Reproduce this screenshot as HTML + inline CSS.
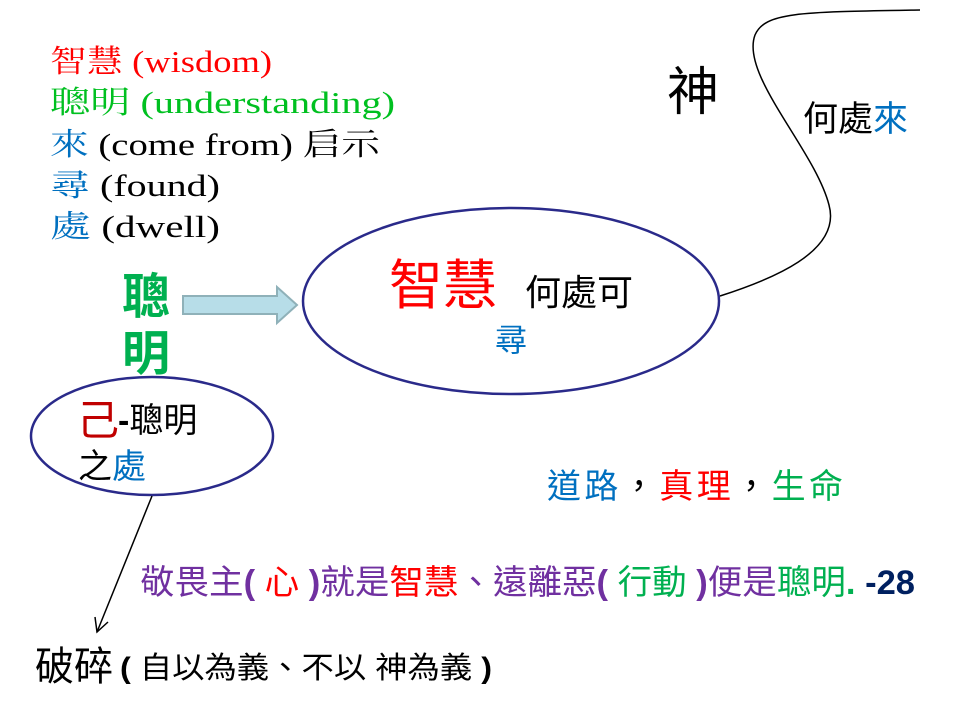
<!DOCTYPE html>
<html><head><meta charset="utf-8"><style>
html,body{margin:0;padding:0;background:#fff;width:960px;height:720px;overflow:hidden}
text{font-family:"Liberation Sans","Noto Sans CJK TC",sans-serif}
text.m{font-family:"Liberation Serif","Noto Serif CJK TC",serif}
</style></head><body>
<svg width="960" height="720" viewBox="0 0 960 720" xmlns="http://www.w3.org/2000/svg">
<g font-size="31">
<text x="50" y="72" class="m" fill="#ff0000" textLength="222" lengthAdjust="spacingAndGlyphs">智慧 (wisdom)</text>
<text x="50" y="113" class="m" fill="#00c020" textLength="345" lengthAdjust="spacingAndGlyphs">聰明 (understanding)</text>
<text x="50" y="155" class="m" fill="#000" textLength="330" lengthAdjust="spacingAndGlyphs"><tspan fill="#0070c0">來</tspan> (come from) 启示</text>
<text x="50" y="196" class="m" fill="#000" textLength="170" lengthAdjust="spacingAndGlyphs"><tspan fill="#0070c0">尋</tspan> (found)</text>
<text x="50" y="237" class="m" fill="#000" textLength="170" lengthAdjust="spacingAndGlyphs"><tspan fill="#0070c0">處</tspan> (dwell)</text>
</g>
<text x="667" y="110" font-size="52" fill="#000">神</text>
<text x="803" y="131" font-size="35" fill="#000">何處<tspan fill="#0070c0">來</tspan></text>
<path d="M720,296 C770,280 842,252 829,205 C815,150 740,75 755,35 C765,12 800,12 920,10" fill="none" stroke="#000" stroke-width="1.5"/>
<ellipse cx="511" cy="301" rx="208" ry="93" fill="none" stroke="#2a2a8a" stroke-width="2.5"/>
<ellipse cx="152" cy="436" rx="121" ry="59" fill="none" stroke="#2a2a8a" stroke-width="2.5"/>
<text x="122" y="313" font-size="48" fill="#00b050" font-weight="bold">聰</text>
<text x="122" y="370" font-size="48" fill="#00b050" font-weight="bold">明</text>
<path d="M183,296 H277 V287 L297,305 L277,323 V314 H183 Z" fill="#b7dde8" stroke="#8fb1b9" stroke-width="2"/>
<text x="389" y="304" font-size="54" fill="#ff0000">智慧</text>
<text x="525" y="305" font-size="36" fill="#000">何處可</text>
<text x="495" y="351" font-size="32" fill="#0070c0">尋</text>
<text x="77" y="435" font-size="42" fill="#c00000">己</text>
<text x="118" y="432" font-size="34" fill="#000"><tspan font-weight="bold">-</tspan>聰明</text>
<text x="78" y="478" font-size="34" fill="#000">之<tspan fill="#0070c0">處</tspan></text>
<text x="547" y="498" font-size="34" textLength="296"><tspan fill="#0070c0">道路</tspan>，<tspan fill="#ff0000">真理</tspan>，<tspan fill="#00b050">生命</tspan></text>
<line x1="152" y1="496" x2="97" y2="632" stroke="#000" stroke-width="1.5"/>
<path d="M95,617 L97,632 L108,622" fill="none" stroke="#000" stroke-width="1.5"/>
<text x="140" y="594" font-size="34" fill="#7030a0" textLength="775" lengthAdjust="spacingAndGlyphs">敬畏主<tspan font-weight="bold">(</tspan> <tspan fill="#ff0000">心</tspan> <tspan font-weight="bold">)</tspan>就是<tspan fill="#ff0000">智慧</tspan>、遠離惡<tspan font-weight="bold">(</tspan> <tspan fill="#00b050">行動</tspan> <tspan font-weight="bold">)</tspan>便是<tspan fill="#00b050">聰明<tspan font-weight="bold">.</tspan></tspan> <tspan fill="#002060" font-weight="bold">-28</tspan></text>
<text x="35" y="680" font-size="40" fill="#000" textLength="78" lengthAdjust="spacingAndGlyphs">破碎</text>
<text x="120" y="678" font-size="30" fill="#000" textLength="372" lengthAdjust="spacingAndGlyphs"><tspan font-weight="bold">(</tspan> 自以為義、不以 神為義 <tspan font-weight="bold">)</tspan></text>
</svg>
</body></html>
